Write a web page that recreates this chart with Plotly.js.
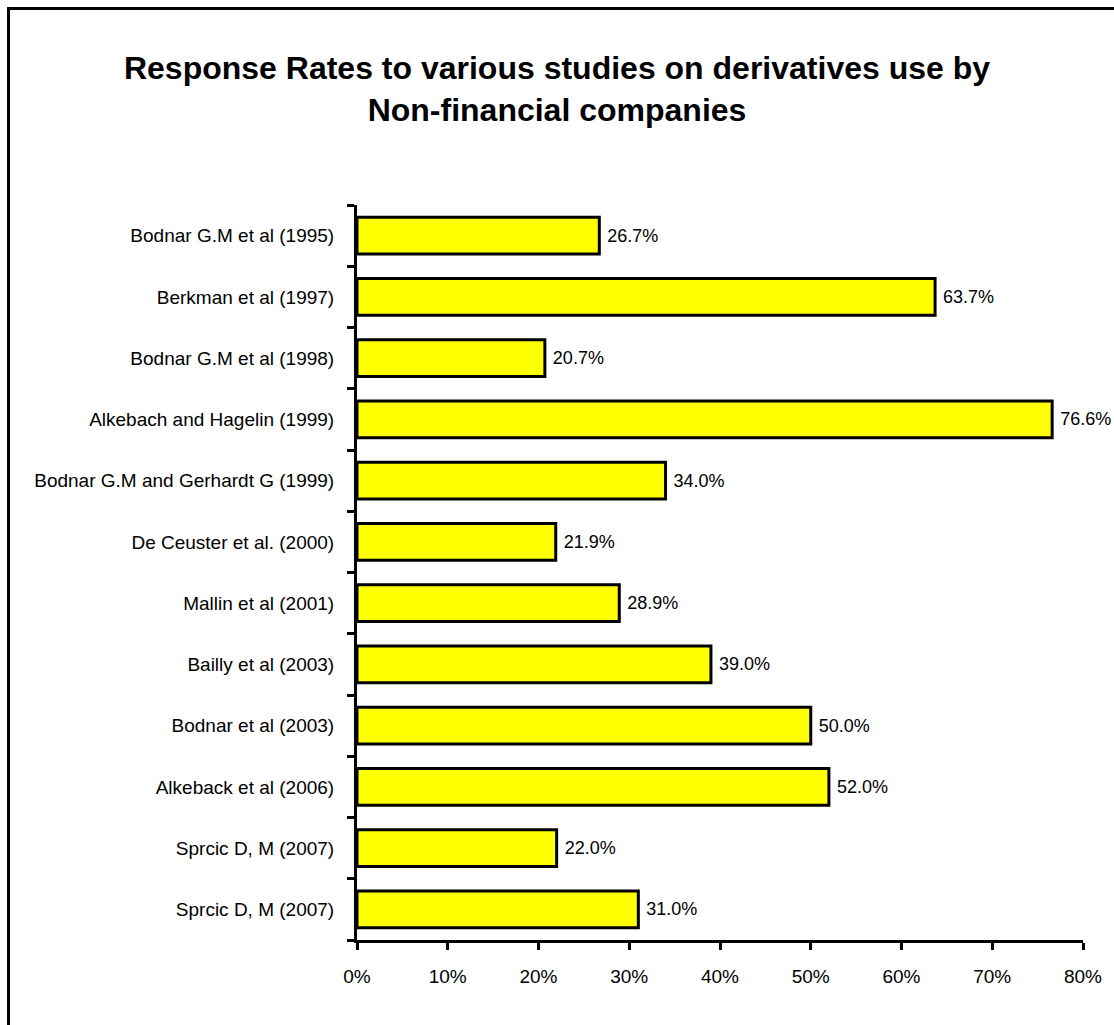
<!DOCTYPE html>
<html>
<head>
<meta charset="utf-8">
<script src="https://cdn.plot.ly/plotly-3.0.1.min.js"></script>
<style>
html,body{margin:0;padding:0;background:#fff;}
#chart{width:1114px;height:1025px;}
</style>
</head>
<body>
<div id="chart"></div>
<script>
const studies = [
  "Bodnar G.M et al (1995)",
  "Berkman et al (1997)",
  "Bodnar G.M et al (1998)",
  "Alkebach and Hagelin (1999)",
  "Bodnar G.M and Gerhardt G (1999)",
  "De Ceuster et al. (2000)",
  "Mallin et al (2001)",
  "Bailly et al (2003)",
  "Bodnar et al (2003)",
  "Alkeback et al (2006)",
  "Sprcic D, M (2007)",
  "Sprcic D, M (2007)"
];
const responseRates = [0.267, 0.637, 0.207, 0.766, 0.340, 0.219, 0.289, 0.390, 0.500, 0.520, 0.220, 0.310];
const xTickVals = [0, 0.1, 0.2, 0.3, 0.4, 0.5, 0.6, 0.7, 0.8];

const idx = studies.map((s, i) => i);
const boundaries = studies.concat([""]).map((s, i) => i - 0.5);

const font = "Liberation Sans, Arial, sans-serif";

const trace = {
  type: "bar",
  orientation: "h",
  x: responseRates,
  y: idx,
  marker: {color: "#FFFF00", line: {color: "#000000", width: 3}},
  texttemplate: " %{x:.1%}",
  textposition: "outside",
  cliponaxis: false,
  textfont: {family: font, size: 18, color: "#000"},
  hoverinfo: "skip"
};

const layout = {
  width: 1114,
  height: 1025,
  paper_bgcolor: "#ffffff",
  plot_bgcolor: "#ffffff",
  margin: {l: 357, r: 31, t: 205, b: 85, pad: 0},
  showlegend: false,
  bargap: 0.4,
  title: {
    text: "<b>Response Rates to various studies on derivatives use by<br>Non-financial companies</b>",
    font: {family: font, size: 32, color: "#000"},
    x: 0.5, xanchor: "center",
    y: 0.923, yanchor: "middle"
  },
  xaxis: {
    range: [0, 0.8],
    tickmode: "array",
    tickvals: xTickVals,
    tickformat: ".0%",
    ticks: "outside",
    ticklen: 7,
    tickwidth: 3,
    tickcolor: "#000",
    showline: true,
    linewidth: 3,
    linecolor: "#000",
    showgrid: false,
    zeroline: false,
    ticklabelstandoff: 10,
    tickfont: {family: font, size: 19, color: "#000"}
  },
  yaxis: {
    range: [studies.length - 0.5, -0.5],
    tickmode: "array",
    tickvals: idx,
    ticktext: studies,
    ticks: "",
    showline: true,
    linewidth: 3,
    linecolor: "#000",
    showgrid: false,
    zeroline: false,
    ticklabelstandoff: 16,
    tickfont: {family: font, size: 19, color: "#000"},
    minor: {
      tickmode: "array",
      tickvals: boundaries,
      ticks: "outside",
      ticklen: 7,
      tickwidth: 3,
      tickcolor: "#000",
      showgrid: false
    }
  },
  shapes: [{
    type: "rect", xref: "paper", yref: "paper",
    x0: -0.48, x1: 1.06, y0: -0.14, y1: 1.2673,
    line: {color: "#000", width: 3},
    fillcolor: "rgba(0,0,0,0)",
    layer: "above"
  }]
};

Plotly.newPlot("chart", [trace], layout, {displayModeBar: false, staticPlot: true});
</script>
</body>
</html>
